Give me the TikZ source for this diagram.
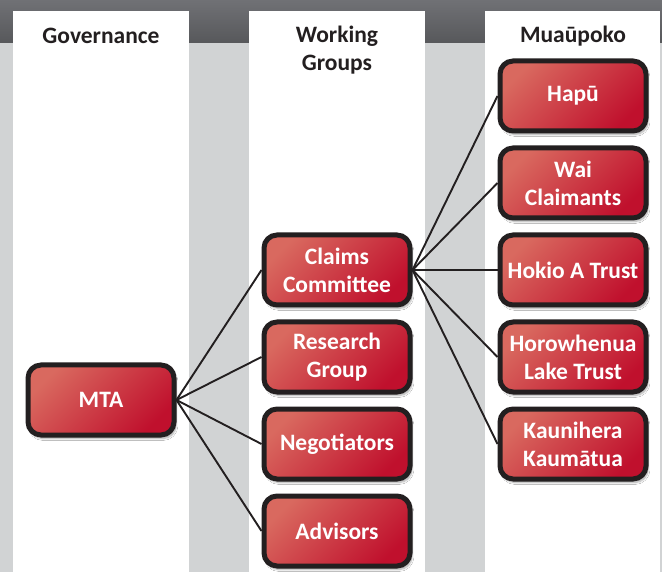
\documentclass[tikz,border=0pt]{standalone}
\usepackage{fontspec}
\setmainfont{Carlito}
\usepackage{tikz}
\usetikzlibrary{shadows, shadows.blur, positioning}
\definecolor{bggray}{HTML}{D1D3D4}
\definecolor{bandtop}{HTML}{707175}
\definecolor{bandbot}{HTML}{57585B}
\definecolor{boxlight}{HTML}{D9695F}
\definecolor{boxmid}{HTML}{CF4749}
\definecolor{boxdark}{HTML}{C0102D}
\definecolor{ink}{HTML}{231F20}

\begin{document}
\begin{tikzpicture}[
    x=1pt, y=-1pt,
    column/.style={fill=white, draw=none},
    header/.style={font=\fontsize{23.5}{28}\selectfont\bfseries, text=ink, align=center},
    orgbox/.style={rectangle, rounded corners=13pt, draw=ink, line width=5pt,
        top color=boxlight, middle color=boxmid, bottom color=boxdark, shading angle=45,
        minimum width=146pt, minimum height=70pt, inner sep=2pt, align=center,
        text=white, font=\fontsize{23.5}{28}\selectfont\bfseries,
        blur shadow={shadow xshift=2pt, shadow yshift=-3.5pt, shadow opacity=35, shadow blur steps=8}},
    link/.style={draw=ink, line width=1.9pt}
]
    \useasboundingbox (0,0) rectangle (662,572);

    % Background
    \fill[bggray] (0,0) rectangle (662,572);
    \shade[top color=bandtop, bottom color=bandbot] (0,0) rectangle (662,43);

    % Columns
    \fill[column] (13,11) rectangle (189,572);
    \fill[column] (249,11) rectangle (425,572);
    \fill[column] (485,11) rectangle (660,572);

    % Headers
    \node[header] (h_gov) at (101,36) {Governance};
    \node[header] (h_wg) at (337,50) {Working\\Groups};
    \node[header] (h_mua) at (573,36) {Muaūpoko};

    % Governance
    \node[orgbox] (MTA) at (101,400) {MTA};

    % Working groups
    \node[orgbox] (claims) at (337,270) {Claims\\Committee};
    \node[orgbox] (research) at (337,357) {Research\\Group};
    \node[orgbox] (negot) at (337,444) {Negotiators};
    \node[orgbox] (advisors) at (337,531) {Advisors};

    % Muaupoko
    \node[orgbox] (hapu) at (573,96) {Hapū};
    \node[orgbox] (wai) at (573,183) {Wai\\Claimants};
    \node[orgbox] (hokio) at (573,270) {Hokio A Trust};
    \node[orgbox] (horo) at (573,357) {Horowhenua\\Lake Trust};
    \node[orgbox] (kauni) at (573,444) {Kaunihera\\Kaumātua};

    % Links
    \foreach \t in {claims, research, negot, advisors}
        \draw[link] (MTA.east) -- (\t.west);
    \foreach \t in {hapu, wai, hokio, horo, kauni}
        \draw[link] (claims.east) -- (\t.west);
\end{tikzpicture}
\end{document}
